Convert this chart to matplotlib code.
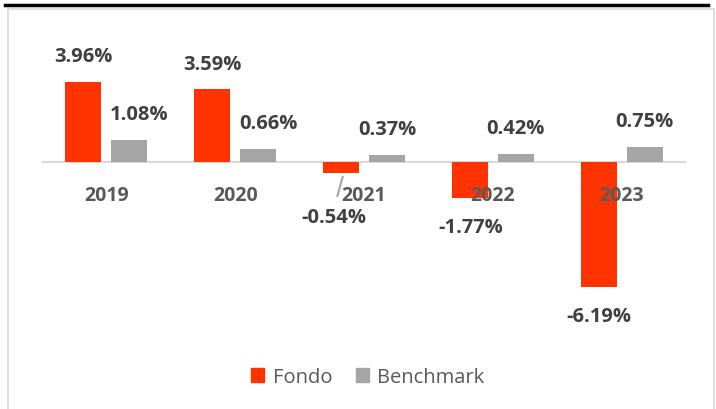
import numpy as np
import matplotlib.pyplot as plt
from matplotlib.patches import Rectangle
from matplotlib.lines import Line2D

years = ["2019", "2020", "2021", "2022", "2023"]
fondo = [3.96, 3.59, -0.54, -1.77, -6.19]
benchmark = [1.08, 0.66, 0.37, 0.42, 0.75]

red = "#FF3300"
grey = "#A5A5A5"
label_color = "#404040"
axis_text = "#595959"

plt.rcParams["font.family"] = ["Open Sans", "DejaVu Sans"]

fig = plt.figure(figsize=(7.16, 4.10), dpi=100)
ax = fig.add_axes([42 / 716, 0.2156 - 3 / 410, 644 / 716, 0.6898])

x = np.arange(len(years))
offset = 0.179
width = 0.28
ax.bar(x - offset, fondo, width, color=red, label="Fondo")
ax.bar(x + offset, benchmark, width, color=grey, label="Benchmark")

ax.set_xlim(-0.5, 4.5)
ax.set_ylim(-8, 6)
ax.axhline(0, color="#D9D9D9", lw=1.5, zorder=0)
for side in ax.spines.values():
    side.set_visible(False)
ax.set_xticks([])
ax.set_yticks([])

for i, year in enumerate(years):
    ax.annotate(year, (i, 0), xytext=(0, -24), textcoords="offset points",
                ha="center", va="center", fontsize=14, fontweight="bold",
                color=axis_text)

# value labels (offsets in points, as placed in the original)
label_kw = dict(textcoords="offset points", ha="center", va="center",
                fontsize=14.5, fontweight="bold", color=label_color)
fondo_offsets = [(0, 18.5), (0, 18.5), (-5, -31.5), (1, -21), (0, -20.5)]
bench_offsets = [(7, 18.5), (7.5, 18.5), (0, 18.5), (0, 18.5), (0, 18.5)]
for i in range(len(years)):
    ax.annotate(f"{fondo[i]:.2f}%", (x[i] - offset, fondo[i]),
                xytext=fondo_offsets[i], **label_kw)
    ax.annotate(f"{benchmark[i]:.2f}%", (x[i] + offset, benchmark[i]),
                xytext=bench_offsets[i], **label_kw)

# leader line for 2021
ax.annotate("", (x[2] - offset + 0.02, fondo[2] - 0.05), xytext=(-5, -18),
            textcoords="offset points",
            arrowprops=dict(arrowstyle="-", color="#A6A6A6", lw=1.5))

handles = [Rectangle((0, 0), 1, 1, color=red), Rectangle((0, 0), 1, 1, color=grey)]
leg = fig.legend(handles, ["Fondo", "Benchmark"], loc="center",
                 bbox_to_anchor=(368 / 716, 1 - 378 / 410), ncol=2, frameon=False,
                 fontsize=14.5, handlelength=0.65, handleheight=0.65,
                 handletextpad=0.4, columnspacing=1.2)
for t in leg.get_texts():
    t.set_color(axis_text)

# frame decorations
fig.add_artist(Rectangle((8 / 716, -0.05), 706 / 716, 1.05 - 10 / 410,
                         transform=fig.transFigure, fill=False,
                         edgecolor="#D9D9D9", lw=1.2))
fig.add_artist(Line2D([5 / 716, 708 / 716], [1 - 6 / 410, 1 - 6 / 410],
                      transform=fig.transFigure, color="black", lw=2.5))

fig.savefig("out.png", dpi=100)
